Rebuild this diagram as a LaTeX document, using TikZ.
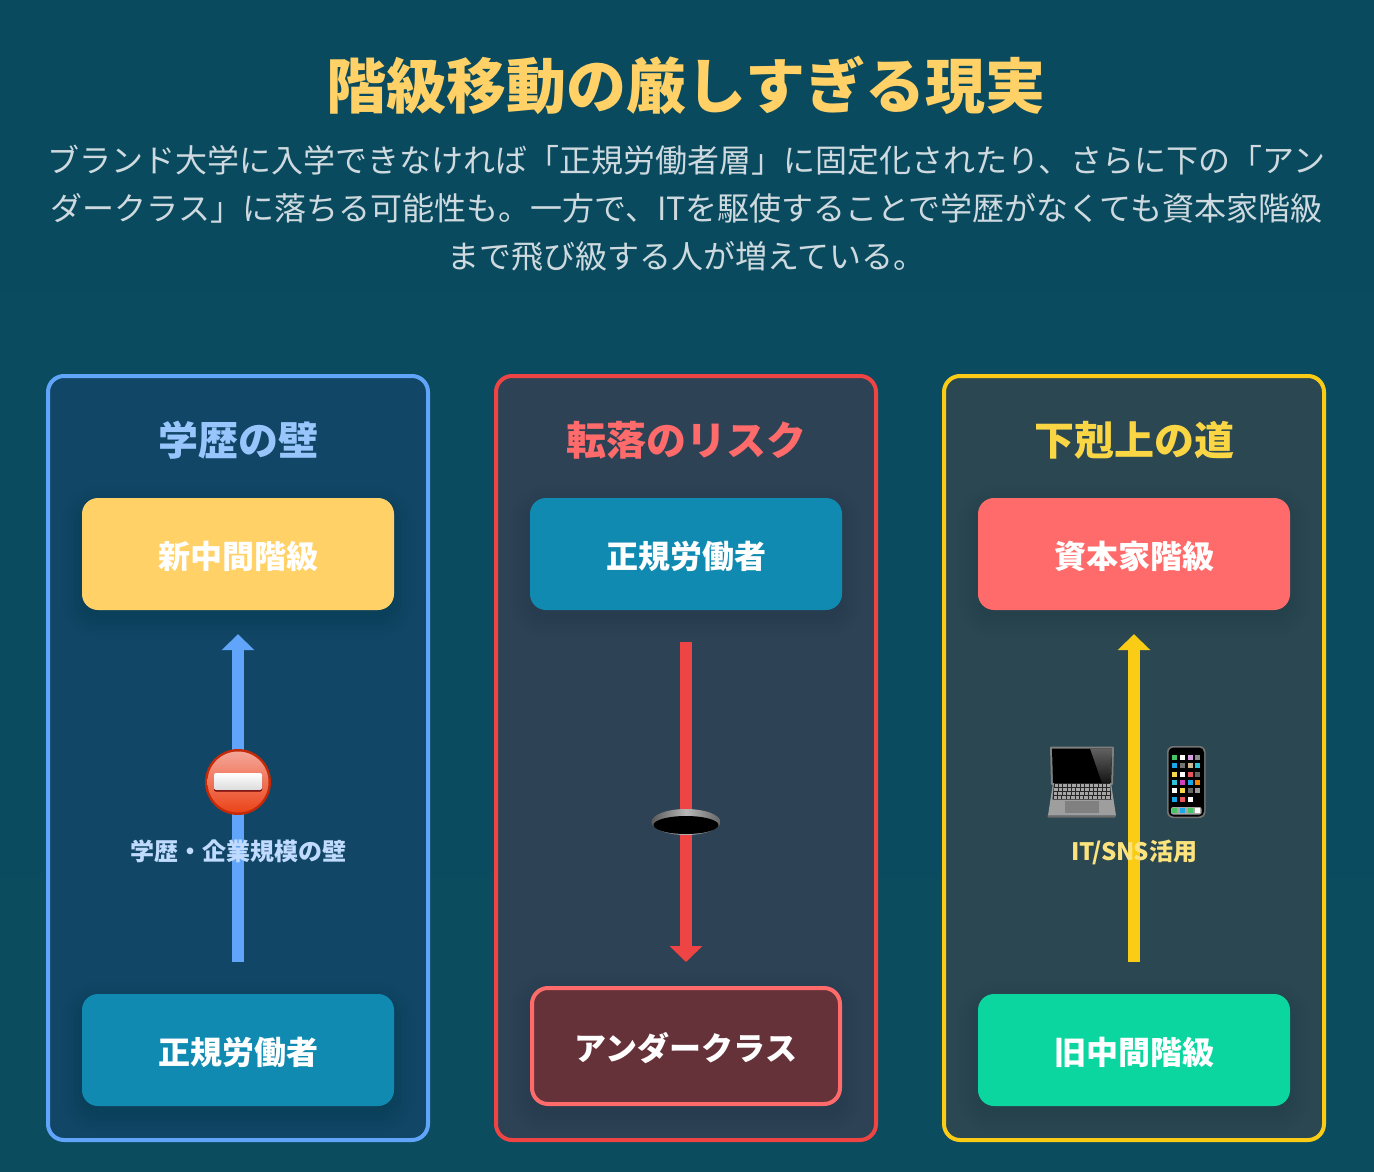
\documentclass[tikz,border=0pt]{standalone}
\usepackage{fontspec}
\setmainfont{Noto Sans CJK JP}
\usetikzlibrary{arrows.meta}
\definecolor{bgtop}{HTML}{0A4A5F}
\definecolor{bgbot}{HTML}{0B4C5F}
\definecolor{cardblue}{HTML}{114667}
\definecolor{cardred}{HTML}{2E4255}
\definecolor{cardgold}{HTML}{2A4752}
\definecolor{lineblue}{HTML}{60A5FA}
\definecolor{linered}{HTML}{EF4444}
\definecolor{linegold}{HTML}{FACC15}
\definecolor{sun}{HTML}{FFD166}
\definecolor{ocean}{HTML}{118AB2}
\definecolor{coral}{HTML}{FF6B6B}
\definecolor{mint}{HTML}{0CD6A0}
\definecolor{wine}{HTML}{663239}
\newcommand{\softshadow}[4]{%
  \foreach \g in {20,16,12,8,4,0}{
    \fill[black,opacity=0.012,rounded corners=16pt+\g pt]
      (#1-\g,#2-\g+8) rectangle (#3+\g,#4+\g+8);
  }}
\tikzset{
  x=1pt,y=-1pt,
  card/.style={draw,line width=4pt,rounded corners=16pt,minimum width=380pt,minimum height=764pt,inner sep=0pt},
  cardhead/.style={font=\bfseries\fontsize{40}{40}\selectfont,anchor=base},
  levelbox/.style={rounded corners=16pt,minimum width=312pt,minimum height=112pt,inner sep=0pt,
    text=white,font=\bfseries\fontsize{32}{32}\selectfont,text height=31pt,text depth=3pt},
  smalltag/.style={font=\bfseries\fontsize{24}{24}\selectfont,anchor=base},
  climb/.style={line width=12pt,-{Triangle[width=32pt,length=16pt]}},
}
\begin{document}
\begin{tikzpicture}
\useasboundingbox (0,0) rectangle (1374,1172);
\fill[top color=bgtop,bottom color=bgbot] (0,0) rectangle (1374,1172);

\node[font=\bfseries\fontsize{60}{60}\selectfont,text=sun,anchor=base] (title) at (686,108) {階級移動の厳しすぎる現実};
\node[font=\fontsize{32}{48}\selectfont,text=white,text opacity=0.8,align=center,anchor=center] (lead) at (686.5,208)
 {ブランド大学に入学できなければ「正規労働者層」に固定化されたり、さらに下の「アン\\
  ダークラス」に落ちる可能性も。一方で、ITを駆使することで学歴がなくても資本家階級\\
  まで飛び級する人が増えている。};

% cards
\node[card,draw=lineblue,fill=cardblue] (c1) at (238,758) {};
\node[card,draw=linered,fill=cardred] (c2) at (686,758) {};
\node[card,draw=linegold,fill=cardgold] (c3) at (1134,758) {};

\node[cardhead,text=lineblue!65!white] (h1) at (238,455) {学歴の壁};
\node[cardhead,text=coral] (h2) at (686,455) {転落のリスク};
\node[cardhead,text=linegold!80!white] (h3) at (1134,455) {下剋上の道};

% shadows
\softshadow{82}{498}{394}{610}
\softshadow{82}{994}{394}{1106}
\softshadow{530}{498}{842}{610}
\softshadow{530}{986}{842}{1106}
\softshadow{978}{498}{1290}{610}
\softshadow{978}{994}{1290}{1106}

% boxes
\node[levelbox,fill=sun] (a1) at (238,554) {新中間階級};
\node[levelbox,fill=ocean] (a2) at (238,1050) {正規労働者};
\node[levelbox,fill=ocean] (b1) at (686,554) {正規労働者};
\node[levelbox,fill=wine,draw=coral,line width=4pt,minimum width=308pt,minimum height=116pt] (b2) at (686,1046) {アンダークラス};
\node[levelbox,fill=coral] (d1) at (1134,554) {資本家階級};
\node[levelbox,fill=mint] (d2) at (1134,1050) {旧中間階級};

% arrows
\draw[climb,draw=lineblue,color=lineblue,shorten <=32pt,shorten >=24pt] (a2.north) -- (a1.south);
\draw[climb,draw=linered,color=linered,shorten <=32pt,shorten >=24pt] (b1.south) -- (b2.north);
\draw[climb,draw=linegold,color=linegold,shorten <=32pt,shorten >=24pt] (d2.north) -- (d1.south);

% no-entry emoji
\definecolor{nored}{HTML}{E8391C}
\definecolor{noedge}{HTML}{C42A08}
\fill[noedge] (238,782) circle (33);
\shade[top color=white!55!nored,middle color=nored,bottom color=nored!85!orange] (238,782) circle (30.5);
\fill[black!55!red,rounded corners=2pt] (214,774) rectangle (262,791.5);
\shade[top color=white,bottom color=black!14,rounded corners=2pt] (214,773) rectangle (262,790);

% hole emoji
\shade[left color=black!65,right color=black!60,middle color=black!28] (686,822) ellipse (34.5 and 13);
\fill[black] (686,825) ellipse (32.5 and 9);

% laptop emoji
\fill[black!50,rounded corners=1pt] (1050,746.5) -- (1114,746.5) -- (1113,785) -- (1051,785) -- cycle;
\fill[black] (1052,748.5) -- (1112,748.5) -- (1111,783) -- (1053,783) -- cycle;
\shade[top color=black!62,bottom color=black!92] (1090,748.5) -- (1112,748.5) -- (1111,783) -- (1102,783) -- cycle;
\fill[black!38] (1053,783) -- (1111,783) -- (1116,815.5) -- (1048,815.5) -- cycle;
\fill[black!85] (1054,783) -- (1110,783) -- (1111.5,799.5) -- (1052.5,799.5) -- cycle;
\draw[black!35,line width=3pt,dash pattern=on 3.4pt off 1pt] (1054.5,785.3) -- (1110,785.3);
\draw[black!35,line width=3pt,dash pattern=on 3.4pt off 1pt] (1054.3,789.5) -- (1110.3,789.5);
\draw[black!35,line width=3pt,dash pattern=on 3.4pt off 1pt] (1054,793.5) -- (1110.6,793.5);
\draw[black!35,line width=3pt,dash pattern=on 3.4pt off 1pt] (1053.5,797.5) -- (1111,797.5);
\fill[black!50] (1065,800.7) rectangle (1099,813.3);
\fill[black!58] (1047,815.5) -- (1116,815.5) -- (1115,817.5) -- (1048,817.5) -- cycle;

% phone emoji
\fill[black!55,rounded corners=6pt] (1167,746) rectangle (1205.5,818);
\fill[black,rounded corners=5pt] (1168.5,747.5) rectangle (1204,816.5);
\fill[black!35,rounded corners=2pt] (1171,807) rectangle (1201.5,814.5);
\newcommand{\appdot}[3]{\fill[#3] (#1-2.5,#2-2.5) rectangle (#1+2.5,#2+2.5);}
\definecolor{appg}{HTML}{45C465}\definecolor{appb}{HTML}{18A8E8}\definecolor{appy}{HTML}{F4D84A}
\definecolor{appr}{HTML}{E8565C}\definecolor{appc}{HTML}{2CC4D8}\definecolor{appv}{HTML}{D8A0E0}
\definecolor{appt}{HTML}{CDB890}\definecolor{appm}{HTML}{D040C0}\definecolor{appo}{HTML}{F08800}
\appdot{1174}{757.5}{appg}\appdot{1182}{757.5}{white}\appdot{1190}{757.5}{appv}\appdot{1197.5}{757.5}{black!45}
\appdot{1174}{765.5}{appb}\appdot{1182}{765.5}{black!55}\appdot{1190}{765.5}{appt}\appdot{1197.5}{765.5}{appc}
\appdot{1174}{774}{appy}\appdot{1182}{774}{white}\appdot{1190}{774}{appr}\appdot{1197.5}{774}{black!60}
\appdot{1174}{782.5}{appc}\appdot{1182}{782.5}{appm}\appdot{1190}{782.5}{appb}\appdot{1197.5}{782.5}{appo}
\appdot{1174}{790.5}{white}\appdot{1182}{790.5}{appy}\appdot{1190}{790.5}{black!60}\appdot{1197.5}{790.5}{black!40}
\appdot{1174}{799}{appb}\appdot{1182}{799}{appr}\appdot{1190}{799}{white}
\appdot{1174}{810.5}{appg}\appdot{1182}{810.5}{appb}\appdot{1190}{810.5}{appg}\appdot{1197.5}{810.5}{white}

% labels
\node[smalltag,text=lineblue!40!white] (t1) at (238,860) {学歴・企業規模の壁};
\node[smalltag,text=linegold!55!white] (t3) at (1134.5,860) {{\addfontfeature{LetterSpace=-2.5}IT/SNS}活用};
\end{tikzpicture}
\end{document}
